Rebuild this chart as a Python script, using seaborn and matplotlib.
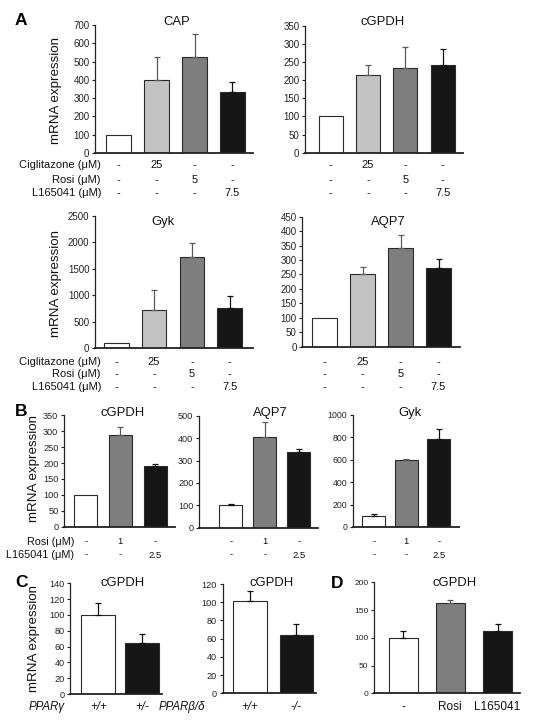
import matplotlib
matplotlib.use("Agg")
import matplotlib.pyplot as plt
import seaborn as sns
import numpy as np
import pandas as pd

sns.set_style("white")
plt.rcParams['font.family'] = ['Liberation Sans', 'DejaVu Sans']

W, H = 539, 728

# ---------------- data ----------------
a_conds = ["Control", "Ciglitazone", "Rosi", "L165041"]
a_cap_vals = [100, 397, 524, 333]
a_cap_err = [0, 129, 125, 53]
a_cgpdh_vals = [100, 214, 234, 242]
a_cgpdh_err = [0, 29, 56, 44]
a_gyk_vals = [100, 718, 1719, 762]
a_gyk_err = [0, 384, 265, 220]
a_aqp7_vals = [100, 251, 343, 273]
a_aqp7_err = [0, 26, 45, 31]
a_row_cig = ["-", "25", "-", "-"]
a_row_rosi = ["-", "-", "5", "-"]
a_row_l16 = ["-", "-", "-", "7.5"]

b_conds = ["Control", "Rosi", "L165041"]
b_cgpdh_vals = [100, 288, 190]
b_cgpdh_err = [0, 24, 6]
b_aqp7_vals = [100, 405, 338]
b_aqp7_err = [4, 66, 12]
b_gyk_vals = [98, 601, 786]
b_gyk_err = [15, 6, 86]
b_row_rosi = ["-", "1", "-"]
b_row_l16 = ["-", "-", "2.5"]

c_conds = ["+/+", "het"]
c_gamma_vals = [100, 65]
c_gamma_err = [15, 11]
c_gamma_labels = ["+/+", "+/-"]
c_delta_vals = [101, 64]
c_delta_err = [11, 12]
c_delta_labels = ["+/+", "-/-"]

d_conds = ["-", "Rosi", "L165041"]
d_vals = [100, 163, 112]
d_err = [12, 6, 13]

WHITE, LIGHT, MID, BLACK = "#ffffff", "#c2c2c2", "#7e7e7e", "#161616"

fig = plt.figure(figsize=(W / 100, H / 100), dpi=100)


def fy(y):
    return 1 - y / H


def panel(l, r, t, b, c0, sp, bw, conds, vals, errs, colors, ymax, ystep,
          tick_fs=7.0):
    ax = fig.add_axes([l / W, 1 - b / H, (r - l) / W, (b - t) / H])
    df = pd.DataFrame({"cond": conds, "val": vals})
    sns.barplot(data=df, x="cond", y="val", hue="cond", palette=colors,
                legend=False, width=bw / sp, errorbar=None, ax=ax,
                edgecolor="#2a2a2a", linewidth=0.8, saturation=1)
    n = len(vals)
    for i in range(n):
        if errs[i] > 0:
            ec = "#5a5a5a" if colors[i] in (LIGHT, MID) else "#111111"
            ax.errorbar([i], [vals[i]], yerr=[[0], [errs[i]]], fmt="none",
                        ecolor=ec, elinewidth=0.9, capsize=2.0,
                        capthick=0.9, zorder=1, clip_on=False)
    ax.set_xlim(-(c0 - l) / sp, n - 1 + (r - (c0 + (n - 1) * sp)) / sp)
    ax.set_ylim(0, ymax)
    ax.set_yticks(np.arange(0, ymax + ystep / 2, ystep))
    ax.set_xticks([])
    ax.set_xlabel("")
    ax.set_ylabel("")
    for s in ("top", "right"):
        ax.spines[s].set_visible(False)
    ax.spines["left"].set_linewidth(0.9)
    ax.spines["left"].set_color("#222222")
    ax.spines["bottom"].set_linewidth(1.3)
    ax.spines["bottom"].set_color("#222222")
    ax.tick_params(axis="y", length=2.5, width=0.8, pad=1.5,
                   labelsize=tick_fs, colors="#222222", left=True)
    ax.patch.set_alpha(0)
    return ax


def row(ax, y, values, fs, style="normal"):
    tr = matplotlib.transforms.blended_transform_factory(ax.transData,
                                                         fig.transFigure)
    for i, v in enumerate(values):
        ax.text(i, fy(y), v, transform=tr, ha="center", va="center",
                fontsize=fs, style=style, color="#111111")


def label(x, y, s, fs, ha="right", style="normal"):
    fig.text(x / W, fy(y), s, ha=ha, va="center", fontsize=fs, style=style,
             color="#111111")


def title(x, y, s, fs=9.4):
    fig.text(x / W, fy(y), s, ha="center", va="center", fontsize=fs,
             color="#111111")


def ylab(x, y, fs=9.6):
    fig.text(x / W, fy(y), "mRNA expression", rotation=90, ha="center",
             va="center", fontsize=fs, color="#111111")


def letter(x, y, s):
    fig.text(x / W, fy(y), s, ha="center", va="center", fontsize=12.5,
             fontweight="heavy", color="#000000")


a_cols = [WHITE, LIGHT, MID, BLACK]

# ---- Panel A ----
ax = panel(95, 253, 25, 153, 118.5, 38, 25, a_conds, a_cap_vals, a_cap_err,
           a_cols, 700, 100)
row(ax, 165, a_row_cig, 8); row(ax, 180, a_row_rosi, 8); row(ax, 193, a_row_l16, 8)
label(101, 165, "Ciglitazone (μM)", 8)
label(101, 180, "Rosi (μM)", 8)
label(101, 193, "L165041 (μM)", 8)
title(177, 22, "CAP")

ax = panel(305, 463, 25.7, 152.7, 330.5, 37.4, 24, a_conds, a_cgpdh_vals,
           a_cgpdh_err, a_cols, 350, 50)
row(ax, 165, a_row_cig, 8); row(ax, 180, a_row_rosi, 8); row(ax, 193, a_row_l16, 8)
title(383, 22, "cGPDH")

ax = panel(95, 253, 216, 348.3, 116.3, 37.8, 24.5, a_conds, a_gyk_vals,
           a_gyk_err, a_cols, 2500, 500)
row(ax, 361.7, a_row_cig, 8); row(ax, 374, a_row_rosi, 8); row(ax, 387, a_row_l16, 8)
label(101, 361.7, "Ciglitazone (μM)", 8)
label(101, 374, "Rosi (μM)", 8)
label(101, 387, "L165041 (μM)", 8)
title(163, 222, "Gyk")

ax = panel(302.3, 460, 216.7, 346.7, 324.5, 38, 24.5, a_conds, a_aqp7_vals,
           a_aqp7_err, a_cols, 450, 50)
row(ax, 361.7, a_row_cig, 8); row(ax, 374, a_row_rosi, 8); row(ax, 387, a_row_l16, 8)
title(388, 222, "AQP7")

ylab(56, 90)
ylab(56, 284)
letter(21, 20.5, "A")

# ---- Panel B ----
b_cols = [WHITE, MID, BLACK]
ax = panel(64, 175, 415.3, 526.7, 85.7, 34.7, 23, b_conds, b_cgpdh_vals,
           b_cgpdh_err, b_cols, 350, 50, tick_fs=6.6)
row(ax, 541.7, b_row_rosi, 6.8); row(ax, 555, b_row_l16, 6.8)
label(74, 541.7, "Rosi (μM)", 7.8)
label(74, 555, "L165041 (μM)", 7.8)
title(123, 413, "cGPDH")

ax = panel(199, 318, 415.7, 527.7, 230.7, 34, 23.3, b_conds, b_aqp7_vals,
           b_aqp7_err, b_cols, 500, 100, tick_fs=6.6)
row(ax, 541.7, b_row_rosi, 6.8); row(ax, 555, b_row_l16, 6.8)
title(270, 413, "AQP7")

ax = panel(352.7, 459, 415, 527, 373.8, 32.5, 23, b_conds, b_gyk_vals,
           b_gyk_err, b_cols, 1000, 200, tick_fs=6.3)
row(ax, 541.7, b_row_rosi, 6.8); row(ax, 555, b_row_l16, 6.8)
title(410, 413, "Gyk")

ylab(34, 469)
letter(21, 411.5, "B")

# ---- Panel C ----
c_cols = [WHITE, BLACK]
ax = panel(70, 162, 583.3, 694, 98.3, 44, 34, c_conds, c_gamma_vals,
           c_gamma_err, c_cols, 140, 20, tick_fs=6.6)
row(ax, 706.7, c_gamma_labels, 8.3, style="italic")
label(65, 706.7, "PPARγ", 8.3, style="italic")
title(123, 583, "cGPDH")

ax = panel(222.7, 316, 584, 693.3, 250, 46.3, 33.5, c_conds, c_delta_vals,
           c_delta_err, c_cols, 120, 20, tick_fs=6.6)
row(ax, 706.7, c_delta_labels, 8.3, style="italic")
label(205, 706.7, "PPARβ/δ", 8.3, style="italic")
title(272, 583, "cGPDH")

ylab(34, 638)
letter(21, 582.5, "C")

# ---- Panel D ----
ax = panel(374, 520, 582.3, 693.3, 403, 47.3, 29, d_conds, d_vals, d_err,
           b_cols, 200, 50, tick_fs=6.0)
row(ax, 706.7, d_conds, 8.5)
title(455, 583, "cGPDH")
letter(337.5, 583.5, "D")

fig.savefig("out.png", dpi=100)
